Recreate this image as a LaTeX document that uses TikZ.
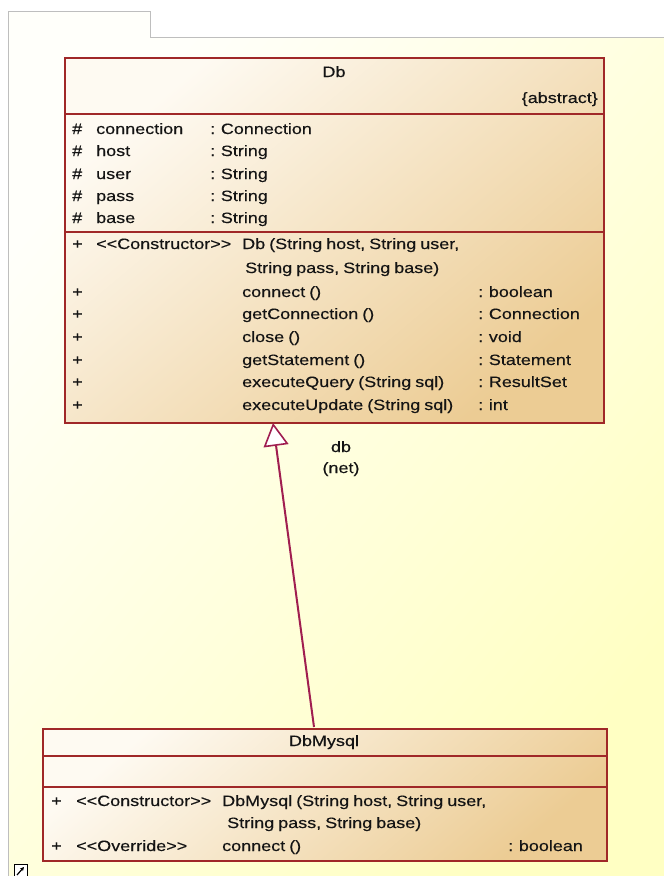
\documentclass[tikz,border=0pt]{standalone}
\usepackage{fontspec}
\setmainfont[FakeStretch=1.2, WordSpace=0.8, FakeBold=0.3]{Liberation Sans}
\usetikzlibrary{arrows.meta}
\definecolor{pkgline}{RGB}{190,190,190}
\definecolor{pkglight}{RGB}{255,255,250}
\definecolor{pkgdark}{RGB}{255,255,195}
\definecolor{boxline}{RGB}{160,40,40}
\definecolor{boxlight}{RGB}{254,250,242}
\definecolor{boxdark}{RGB}{236,204,148}
\definecolor{genline}{RGB}{160,30,80}
\definecolor{txt}{RGB}{20,20,20}
\tikzset{
  every node/.style={font=\fontsize{15}{18}\selectfont, text=txt, inner sep=0pt},
  classbox/.style={draw=boxline, line width=1.6pt, rectangle, anchor=north west,
     top color=boxlight, bottom color=boxdark, shading angle=40},
  divider/.style={draw=boxline, line width=1.6pt},
  lt/.style={anchor=base west},
  ct/.style={anchor=base},
  rt/.style={anchor=base east},
  gen/.style={draw=genline, line width=2pt,
     -{Triangle[open, length=23pt, width=25pt, fill=white, line width=1.6pt]}}
}
\begin{document}
\begin{tikzpicture}[x=1pt,y=-1pt]
\useasboundingbox (0,0) rectangle (664,876);
\fill[white] (0,0) rectangle (664,876);
% package
\shade[top color=pkglight, bottom color=pkgdark, shading angle=50]
  (8,880) -- (8,11) -- (150,11) -- (150,37) -- (670,37) -- (670,880) -- cycle;
\draw[pkgline, line width=1pt] (8,880) -- (8,11) -- (150,11) -- (150,37) -- (670,37);

% Db class
\node[classbox, minimum width=539pt, minimum height=365pt] (db) at (64,57) {};
\draw[divider] (64,114) -- (603,114);
\draw[divider] (64,232) -- (603,232);
\node[ct] (dbname) at (334,77) {Db};
\node[rt] (dbabs) at (598,103) {\{abstract\}};
\foreach \n/\t/\y in {connection/Connection/134, host/String/156, user/String/179, pass/String/201, base/String/223}{
  \node[lt] (v\n) at (72,\y) {\#};
  \node[lt] (a\n) at (96,\y) {\n};
  \node[lt] (t\n) at (210,\y) {: \t};
}
\node[lt] (p1) at (72,249) {+};
\node[lt] (st1) at (96,249) {<{}<Constructor>{}>};
\node[lt] (m1) at (242,249) {Db (String host, String user,};
\node[lt] (m1b) at (245,273) {String pass, String base)};
\foreach \k/\m/\r/\y in {2/connect ()/boolean/297, 3/getConnection ()/Connection/319, 4/close ()/void/342, 5/getStatement ()/Statement/365, 6/executeQuery (String sql)/ResultSet/387, 7/executeUpdate (String sql)/int/410}{
  \node[lt] (p\k) at (72,\y) {+};
  \node[lt] (m\k) at (242,\y) {\m};
  \node[lt] (r\k) at (478,\y) {: \r};
}

% DbMysql class
\node[classbox, minimum width=564pt, minimum height=132pt] (dbm) at (42,728) {};
\draw[divider] (42,756) -- (606,756);
\draw[divider] (42,787) -- (606,787);
\node[ct] (dbmname) at (324,746) {DbMysql};
\node[lt] (q1) at (51,806) {+};
\node[lt] (s1) at (76,806) {<{}<Constructor>{}>};
\node[lt] (n1) at (222,806) {DbMysql (String host, String user,};
\node[lt] (n1b) at (227,828) {String pass, String base)};
\node[lt] (q2) at (51,851) {+};
\node[lt] (s2) at (76,851) {<{}<Override>{}>};
\node[lt] (n2) at (222,851) {connect ()};
\node[lt] (r8) at (508,851) {: boolean};

% generalization
\coordinate (gs) at (314,727);
\coordinate (ge) at (273,423);
\draw[gen] (gs) -- (ge);
\node[ct] (glabel1) at (341,452) {db};
\node[ct] (glabel2) at (341,473) {(net)};

% small link icon
\draw[black, line width=1pt, fill=white] (14,864) rectangle (27,878);
\draw[black, line width=1.2pt, -{Stealth[length=4pt,width=4pt]}] (17,875) -- (24,867);
\end{tikzpicture}
\end{document}
